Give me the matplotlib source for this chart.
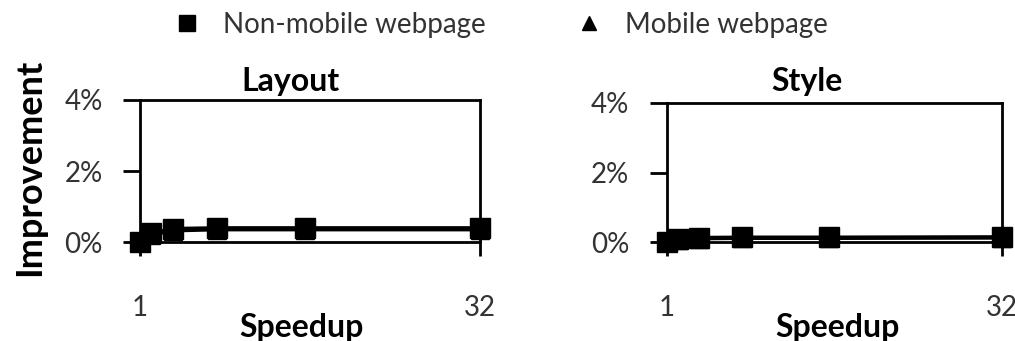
import matplotlib
matplotlib.use("Agg")
import matplotlib.pyplot as plt
from matplotlib.lines import Line2D
from matplotlib.ticker import FuncFormatter

plt.rcParams["font.family"] = ["Lato", "DejaVu Sans"]

# speedup factors (x) and improvement in percent (y)
speedup = [1, 2, 4, 8, 16, 32]
layout_nonmobile = [0.0, 0.25, 0.38, 0.40, 0.40, 0.40]
layout_mobile = [0.0, 0.20, 0.32, 0.35, 0.35, 0.35]
style_nonmobile = [0.0, 0.08, 0.13, 0.14, 0.14, 0.15]
style_mobile = [0.0, 0.05, 0.10, 0.11, 0.11, 0.12]
panels = ["Layout", "Style"]
series_labels = ["Non-mobile webpage", "Mobile webpage"]
ytick_vals = [0, 2, 4]
xtick_vals = [1, 32]

TXT = "#333333"

fig = plt.figure(figsize=(10.15, 3.41), dpi=100)
ax1 = fig.add_axes([0.138, 0.290, 0.335, 0.417])
ax2 = fig.add_axes([0.657, 0.290, 0.330, 0.408])

data = [(layout_nonmobile, layout_mobile), (style_nonmobile, style_mobile)]
for ax, (nm, mb) in zip([ax1, ax2], data):
    ax.plot(speedup, mb, color="black", lw=2.5, marker="^", ms=13,
            clip_on=False, zorder=3)
    ax.plot(speedup, nm, color="black", lw=2.5, marker="s", ms=14,
            clip_on=False, zorder=4)
    ax.set_xlim(1, 32)
    ax.set_ylim(0, 4)
    ax.set_xticks(xtick_vals)
    ax.set_yticks(ytick_vals)
    ax.yaxis.set_major_formatter(FuncFormatter(lambda v, p: f"{v:.0f}%"))
    for s in ax.spines.values():
        s.set_linewidth(2)
        s.set_color("black")
    ax.tick_params(axis="y", direction="out", length=12, width=2, pad=15,
                   labelsize=20, labelcolor=TXT)
    ax.tick_params(axis="x", direction="out", length=10, width=2, pad=28,
                   labelsize=20, labelcolor=TXT)

# titles and axis labels placed like the original
fig.text(290 / 1015, 1 - 82 / 341, panels[0], ha="center", va="center",
         fontsize=23, fontweight="bold")
fig.text(807 / 1015, 1 - 82 / 341, panels[1], ha="center", va="center",
         fontsize=23, fontweight="bold")
fig.text(302 / 1015, 1 - 327 / 341, "Speedup", ha="center", va="center",
         fontsize=23, fontweight="bold")
fig.text(838 / 1015, 1 - 327 / 341, "Speedup", ha="center", va="center",
         fontsize=23, fontweight="bold")
fig.text(30 / 1015, 1 - 167 / 341, "Improvement", ha="center", va="center",
         rotation=90, fontsize=26, fontweight="bold")

handles = [
    Line2D([], [], color="black", marker="s", ls="none", ms=11),
    Line2D([], [], color="black", marker="^", ls="none", ms=10),
]
fig.legend(handles, series_labels, loc="center left",
           bbox_to_anchor=(162 / 1015, 1 - 25 / 341), ncol=2, frameon=False,
           fontsize=20, labelcolor=TXT, handletextpad=0.8,
           columnspacing=3.2, handlelength=1.0, borderaxespad=0)

fig.savefig("out.png", dpi=100)
